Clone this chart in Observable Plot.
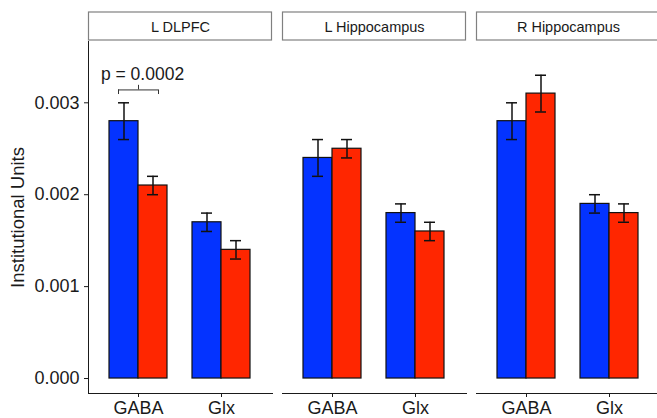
<!DOCTYPE html>
<html><head><meta charset="utf-8">
<script src="https://cdn.jsdelivr.net/npm/d3@7"></script>
<script src="https://cdn.jsdelivr.net/npm/@observablehq/plot@0.6"></script>
<style>
html,body{margin:0;padding:0;background:#fff;overflow:hidden}
#chart svg{display:block;font-family:"Liberation Sans",Arial,sans-serif;max-width:none!important}
#chart g[aria-label="fx-axis tick label"] text{font-size:14.5px}
#chart g[aria-label="y-axis tick label"] text,#chart g[aria-label="x-axis tick label"] text{font-size:18px}
#chart g[aria-label="y-axis label"] text{font-size:18.5px}
</style></head><body><div id="chart"></div>
<script>
const regions = ["L DLPFC", "L Hippocampus", "R Hippocampus"];
const metabolites = ["GABA", "Glx"];
const groups = ["Group 1", "Group 2"];
const groupColors = ["#0433ff", "#ff2600"];
// means per region (L DLPFC, L Hippocampus, R Hippocampus)
const gabaMean1 = [0.0028, 0.0024, 0.0028];
const gabaMean2 = [0.0021, 0.0025, 0.0031];
const glxMean1 = [0.0017, 0.0018, 0.0019];
const glxMean2 = [0.0014, 0.0016, 0.0018];
// error half-widths
const gabaErr1 = [0.0002, 0.0002, 0.0002];
const gabaErr2 = [0.0001, 0.0001, 0.0002];
const glxErr1 = [0.0001, 0.0001, 0.0001];
const glxErr2 = [0.0001, 0.0001, 0.0001];
const yTicks = [0, 0.001, 0.002, 0.003];
const yDomain = [-0.000163, 0.003667];
const yTitle = "Institutional Units";
// significance annotation
const pRegion = ["L DLPFC"];
const pMetabolite = ["GABA"];
const pLabel = ["p = 0.0002"];
const pTextY = [0.00331];
const pBracketY = [0.00314];
const pBracketLow = [0.00309];
const pBracketHigh = [0.00319];

const rows = [];
regions.forEach((r, i) => {
  rows.push({region: r, metabolite: "GABA", group: groups[0], mean: gabaMean1[i], err: gabaErr1[i]});
  rows.push({region: r, metabolite: "GABA", group: groups[1], mean: gabaMean2[i], err: gabaErr2[i]});
  rows.push({region: r, metabolite: "Glx", group: groups[0], mean: glxMean1[i], err: glxErr1[i]});
  rows.push({region: r, metabolite: "Glx", group: groups[1], mean: glxMean2[i], err: glxErr2[i]});
});
const g1 = rows.filter(d => d.group === groups[0]);
const g2 = rows.filter(d => d.group === groups[1]);
const ann = pRegion.map((r, i) => ({region: r, metabolite: pMetabolite[i], label: pLabel[i], ty: pTextY[i], by: pBracketY[i], lo: pBracketLow[i], hi: pBracketHigh[i]}));

function build(bw) {
  const half = bw / 2, q = bw / 4, cap = 11, br = 40;
  const common = {fx: "region", x: "metabolite"};
  return Plot.plot({
    width: 657, height: 418,
    marginLeft: 88, marginRight: -4, marginTop: 41, marginBottom: 25,
    style: {background: "white", color: "#1a1a1a", fontSize: "18px"},
    fx: {domain: regions, paddingInner: 10 / 194.3, paddingOuter: 0, axis: "top", label: null, tickSize: 0, tickPadding: 10},
    x: {domain: metabolites, paddingInner: 0.3, paddingOuter: 0.25, label: null, tickSize: 4, tickPadding: 4, line: true},
    y: {domain: yDomain, ticks: yTicks, tickFormat: d3.format(".3f"), label: yTitle, labelArrow: false, labelAnchor: "center", labelOffset: 78, tickSize: 4, tickPadding: 5, line: true},
    color: {domain: groups, range: groupColors},
    marks: [
      Plot.barY(g1, {...common, y: "mean", fill: "group", stroke: "#111", strokeWidth: 1.2, insetRight: half}),
      Plot.barY(g2, {...common, y: "mean", fill: "group", stroke: "#111", strokeWidth: 1.2, insetLeft: half}),
      Plot.ruleX(g1, {...common, y1: d => d.mean - d.err, y2: d => d.mean + d.err, dx: -q, stroke: "#111", strokeWidth: 1.5}),
      Plot.ruleX(g2, {...common, y1: d => d.mean - d.err, y2: d => d.mean + d.err, dx: q, stroke: "#111", strokeWidth: 1.5}),
      Plot.tickY(g1, {...common, y: d => d.mean - d.err, dx: -q, insetLeft: (bw - cap) / 2, insetRight: (bw - cap) / 2, stroke: "#111", strokeWidth: 1.5}),
      Plot.tickY(g1, {...common, y: d => d.mean + d.err, dx: -q, insetLeft: (bw - cap) / 2, insetRight: (bw - cap) / 2, stroke: "#111", strokeWidth: 1.5}),
      Plot.tickY(g2, {...common, y: d => d.mean - d.err, dx: q, insetLeft: (bw - cap) / 2, insetRight: (bw - cap) / 2, stroke: "#111", strokeWidth: 1.5}),
      Plot.tickY(g2, {...common, y: d => d.mean + d.err, dx: q, insetLeft: (bw - cap) / 2, insetRight: (bw - cap) / 2, stroke: "#111", strokeWidth: 1.5}),
      // bracket
      Plot.tickY(ann, {...common, y: "by", insetLeft: (bw - br) / 2, insetRight: (bw - br) / 2, stroke: "#333", strokeWidth: 1}),
      Plot.ruleX(ann, {...common, y1: "lo", y2: "by", dx: -br / 2, stroke: "#333", strokeWidth: 1}),
      Plot.ruleX(ann, {...common, y1: "lo", y2: "by", dx: br / 2, stroke: "#333", strokeWidth: 1}),
      Plot.ruleX(ann, {...common, y1: "by", y2: "hi", stroke: "#333", strokeWidth: 1}),
      Plot.text(ann, {...common, y: "ty", text: "label", dx: 4, fontSize: 17.5, fill: "#1a1a1a"})
    ]
  });
}

let plot = build(0);
const bw = plot.scale("x").bandwidth;
plot = build(bw);
const fx = plot.scale("fx");
const svg = d3.select(plot);
// strip any arrow glyph from the y-axis title, if this Plot version adds one
svg.selectAll('g[aria-label="y-axis label"] text').each(function() {
  this.textContent = this.textContent.replace(/[\u2190-\u2193]/g, "").trim();
});
const strips = svg.insert("g", ":scope > g").attr("aria-label", "strips");
regions.forEach(r => {
  strips.append("rect")
    .attr("x", fx.apply(r) + 0.5).attr("y", 12)
    .attr("width", fx.bandwidth - 1).attr("height", 28)
    .attr("fill", "white").attr("stroke", "#808080").attr("stroke-width", 1.2);
});
document.getElementById("chart").appendChild(plot);
</script></body></html>
